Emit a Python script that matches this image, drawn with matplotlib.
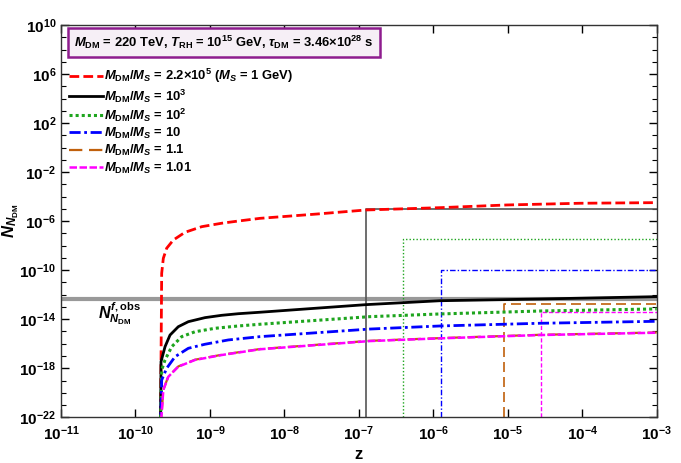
import matplotlib
matplotlib.use("Agg")
import matplotlib.pyplot as plt
from matplotlib.ticker import NullFormatter
import numpy as np

plt.rcParams["font.family"] = ["Liberation Sans", "DejaVu Sans"]
plt.rcParams["font.weight"] = "bold"
plt.rcParams["mathtext.fontset"] = "custom"
plt.rcParams["mathtext.rm"] = "Liberation Sans:bold"
plt.rcParams["mathtext.it"] = "Liberation Sans:italic:bold"
plt.rcParams["mathtext.bf"] = "Liberation Sans:bold"

# curves, as log10(z) and log10(N)
red_logz = [-9.664, -9.648, -9.626, -9.581, -9.492, -9.335, -9.110, -8.842, -8.619, -8.327,
            -7.566, -6.908, -5.910, -5.014, -4.030, -3.0]
red_logN = [-23.0, -10.25, -9.03, -8.21, -7.54, -6.91, -6.45, -6.17, -5.99, -5.77,
            -5.42, -5.09, -4.90, -4.68, -4.54, -4.49]

black_logz = [-9.664, -9.657, -9.603, -9.536, -9.425, -9.290, -9.066, -8.842, -8.619, -8.327,
              -6.904, -5.910, -4.568, -3.0]
black_logN = [-23.0, -17.46, -16.24, -15.29, -14.61, -14.20, -13.87, -13.68, -13.55, -13.43,
              -12.81, -12.49, -12.35, -12.16]

green_logz = [-9.664, -9.648, -9.603, -9.513, -9.379, -9.200, -8.932, -8.619, -8.327,
              -6.850, -5.910, -4.568, -3.0]
green_logN = [-23.0, -18.14, -17.32, -16.24, -15.42, -15.02, -14.74, -14.55, -14.41,
              -13.79, -13.57, -13.33, -13.16]

blue_logz = [-9.664, -9.648, -9.581, -9.469, -9.290, -9.066, -8.753, -8.327,
             -6.850, -5.910, -4.568, -3.0]
blue_logN = [-23.0, -18.96, -18.00, -17.06, -16.37, -16.04, -15.69, -15.42,
             -14.80, -14.55, -14.33, -14.17]

brown_logz = [-9.664, -9.626, -9.559, -9.425, -9.200, -8.842, -8.327,
              -6.850, -5.910, -4.568, -3.0]
brown_logN = [-23.0, -19.75, -18.67, -17.85, -17.30, -16.90, -16.43,
              -15.76, -15.54, -15.27, -15.08]

magenta_logz = [-9.664, -9.626, -9.559, -9.425, -9.200, -8.842, -8.327,
                -6.850, -5.910, -4.568, -3.0]
magenta_logN = [-23.0, -19.77, -18.69, -17.87, -17.32, -16.92, -16.45,
                -15.78, -15.56, -15.29, -15.10]

# bound boxes: (log10 z, log10 N)
box_logz = [-6.906, -6.403, -5.901, -5.047, -4.554]
box_logN = [-5.01, -7.48, -9.98, -12.76, -13.38]

obs_logN = -12.35

labels = [
    r"$M_{\mathrm{DM}}/M_S$ = 2.2$\times$10$^5$ ($M_S$ = 1 GeV)",
    r"$M_{\mathrm{DM}}/M_S$ = 10$^3$",
    r"$M_{\mathrm{DM}}/M_S$ = 10$^2$",
    r"$M_{\mathrm{DM}}/M_S$ = 10",
    r"$M_{\mathrm{DM}}/M_S$ = 1.1",
    r"$M_{\mathrm{DM}}/M_S$ = 1.01",
]


def main():
    fig = plt.figure(figsize=(6.81, 4.63), dpi=100)
    ax = fig.add_axes([0.0896, 0.0987, 0.8747, 0.8473])
    ax.set_xscale("log")
    ax.set_yscale("log")

    ax.axhline(10 ** obs_logN, color="#999999", lw=3, zorder=1)

    styles = [
        ("#ff0000", (0, (3.5, 1.5)), 2.0),
        ("#000000", "-", 2.0),
        ("#1ea51e", (0, (1, 1)), 2.2),
        ("#0000ff", (0, (4, 1.3, 1, 1.3)), 2.0),
        ("#c0600c", (0, (6, 3)), 1.6),
        ("#ff00ff", (0, (3, 1)), 1.8),
    ]
    curves = [(red_logz, red_logN), (black_logz, black_logN), (green_logz, green_logN),
              (blue_logz, blue_logN), (brown_logz, brown_logN), (magenta_logz, magenta_logN)]

    for (lz, lN), (c, ls, lw), lab in zip(curves, styles, labels):
        ax.plot(np.power(10.0, lz), np.power(10.0, lN), color=c, ls=ls, lw=lw, label=lab, zorder=3)

    box_styles = [
        ("#555555", "-", 1.2),
        ("#1ea51e", (0, (1, 1.5)), 1.0),
        ("#0000ff", (0, (4, 1.5, 1, 1.5)), 1.0),
        ("#c0600c", (0, (6, 3)), 1.2),
        ("#ff00ff", (0, (3, 1.5)), 1.0),
    ]
    for lz, lN, (c, ls, lw) in zip(box_logz, box_logN, box_styles):
        bx = np.power(10.0, [lz, lz, -3.0])
        by = np.power(10.0, [-22.0, lN, lN])
        ax.plot(bx, by, color=c, ls=ls, lw=lw, zorder=2)

    ax.set_xlim(1e-11, 1e-3)
    ax.set_ylim(1e-22, 1e10)

    ax.set_xticks([10.0 ** k for k in range(-11, -2)])
    ax.set_xticklabels([r"10$^{%d}$" % k for k in range(-11, -2)])
    ax.set_yticks([10.0 ** k for k in range(-22, 11, 4)])
    ax.set_yticklabels([r"10$^{%d}$" % k for k in range(-22, 11, 4)])
    ax.set_yticks([10.0 ** k for k in range(-22, 11)], minor=True)
    ax.set_xticks([], minor=True)
    ax.yaxis.set_minor_formatter(NullFormatter())
    ax.xaxis.set_minor_formatter(NullFormatter())
    ax.tick_params(which="both", direction="in", top=True, right=True, labelsize=11)
    ax.tick_params(which="major", length=6, width=1)
    ax.tick_params(which="minor", length=3.5, width=0.8)
    ax.tick_params(axis="x", pad=5)
    for s in ax.spines.values():
        s.set_color("#333333")
        s.set_linewidth(1.0)

    ax.set_xlabel("z", fontsize=12, fontweight="bold", labelpad=3)
    ax.set_ylabel(r"$N_{N_{\mathrm{DM}}}$", fontsize=12)
    ax.yaxis.set_label_coords(-0.068, 0.5)

    ax.text(10 ** -10.5, 10 ** -13.55, r"$N^{f,\mathrm{obs}}_{N_{\mathrm{DM}}}$", fontsize=11.5,
            ha="left", va="center")

    ax.text(0.2736, 0.955,
            r"$M_{\mathrm{DM}}$ = 220 TeV, $T_{\mathrm{RH}}$ = 10$^{15}$ GeV, $\tau_{\mathrm{DM}}$ = 3.46$\times$10$^{28}$ s",
            transform=ax.transAxes, fontsize=9.4, ha="center", va="center",
            bbox=dict(boxstyle="square,pad=0.45", fc="#f6eff6", ec="#8e1c8e", lw=1.8))

    ax.legend(loc="upper left", bbox_to_anchor=(0.0, 0.913), frameon=False, fontsize=9.4,
              handlelength=2.6, handletextpad=0.1, labelspacing=0.16, borderaxespad=0.2)

    fig.savefig("out.png", dpi=100)


if __name__ == "__main__":
    main()
